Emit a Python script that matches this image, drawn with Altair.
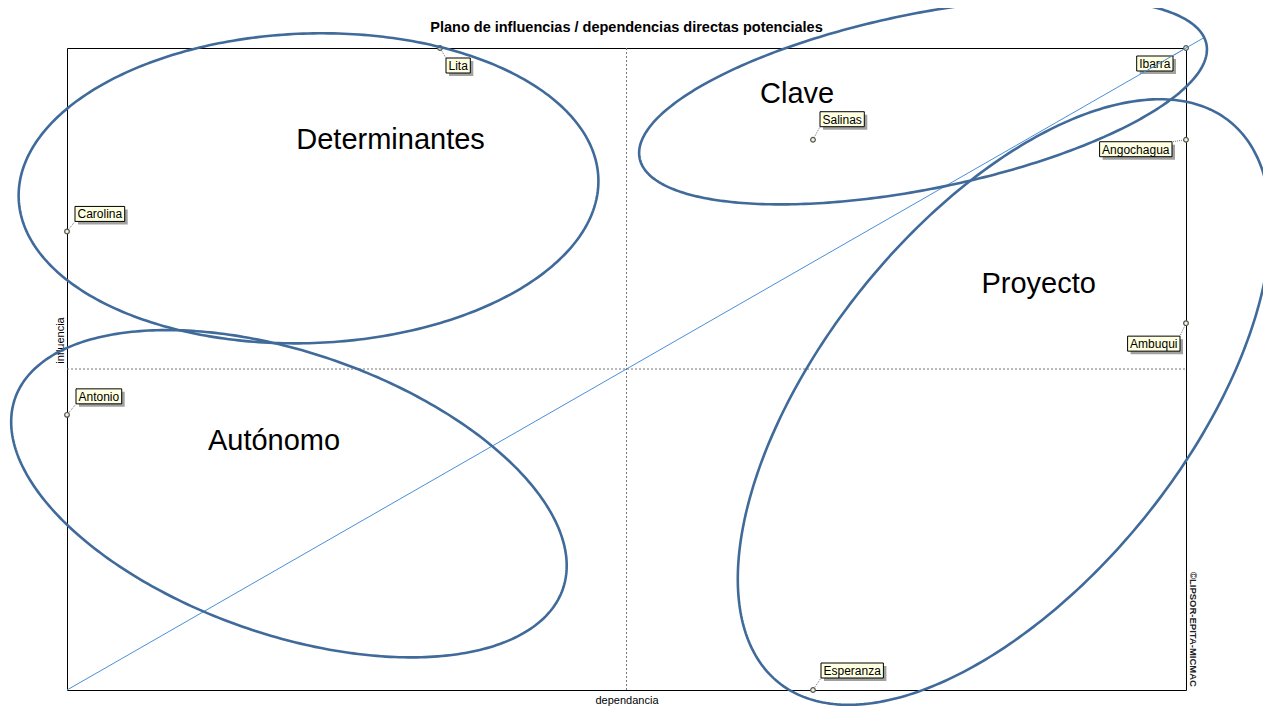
import altair as alt
import numpy as np
import pandas as pd

# ---------------- data ----------------
TITLE = "Plano de influencias / dependencias directas potenciales"
X_TITLE = "dependancia"
Y_TITLE = "influencia"
WATERMARK = "©LIPSOR-EPITA-MICMAC"

ACTORS = ["Lita", "Carolina", "Antonio", "Ibarra", "Salinas", "Angochagua", "Ambuqui", "Esperanza"]
DEPENDENCIA = [4, 0, 0, 12, 8, 12, 12, 8]
INFLUENCIA = [7, 5, 3, 7, 6, 6, 4, 0]

X_DOMAIN = [0, 12]
Y_DOMAIN = [0, 7]

REGIONS = ["Determinantes", "Clave", "Proyecto", "Autónomo"]
REGION_X = [3.47, 7.83, 10.42, 2.22]
REGION_Y = [6.0, 6.5, 4.43, 2.72]

# region ellipses: centre (data), semi-axes (x-data units), rotation (deg)
ELL_CX = [2.59, 9.18, 10.05, 2.38]
ELL_CY = [5.47, 6.42, 3.14, 2.14]
ELL_A = [3.11, 3.10, 3.86, 3.11]
ELL_B = [1.66, 0.94, 1.95, 1.51]
ELL_ANG = [2, 11.4, 51.2, -19.2]

DIAG_END_X = 12.2
WATERMARK_X = 12.07
WATERMARK_Y = 0.66
TITLE_X = 6.0
TITLE_Y = 7.22

# ---------------- style ----------------
W, H = 1119, 642
FONT = "Liberation Sans"
ELL_COLOR = "#3f6a9a"
DIAG_COLOR = "#4a8fd8"

# label box placement in pixels relative to the point: (side, box edge, box top)
LABEL_PLACE = {
    "Lita": ("L", 6, 10),
    "Carolina": ("L", 8, -25),
    "Antonio": ("L", 9, -26),
    "Ibarra": ("R", -13, 8),
    "Salinas": ("L", 7, -28),
    "Angochagua": ("R", -14, 2),
    "Ambuqui": ("R", -6, 13),
    "Esperanza": ("L", 8, -27),
}
BOX_H = 15
LABEL_SIZE = 12
CHAR_W = {"A": 667, "E": 667, "I": 278, "L": 556, "C": 722, "S": 667,
          "a": 556, "b": 556, "c": 500, "e": 556, "g": 556, "h": 556, "i": 222,
          "l": 222, "m": 833, "n": 556, "o": 556, "p": 556, "q": 556, "r": 333,
          "s": 500, "t": 278, "u": 556, "z": 500, "y": 500, "d": 556}


def text_w(s):
    return sum(CHAR_W.get(c, 556) for c in s) * LABEL_SIZE / 1000.0


K = (W / (X_DOMAIN[1] - X_DOMAIN[0])) / (H / (Y_DOMAIN[1] - Y_DOMAIN[0]))

# ---------------- tables ----------------
lab_rows = []
for name, x, y in zip(ACTORS, DEPENDENCIA, INFLUENCIA):
    side, ox, top = LABEL_PLACE[name]
    w = round(text_w(name) + 5, 1)
    bx = ox if side == "L" else ox - w
    cx = bx if side == "L" else bx + w
    cy = top + BOX_H if top < 0 else top
    lab_rows.append({
        "x": x, "y": y, "name": name,
        "box": f"M{bx},{top}h{w}v{BOX_H}h{-w}Z",
        "shadow": f"M{bx + 3},{top + 3}h{w}v{BOX_H}h{-w}Z",
        "leader": f"M0,0L{cx},{cy}",
        "tx": bx + w / 2, "ty": top + BOX_H / 2 + 0.5,
    })
labels = pd.DataFrame(lab_rows)

phi = np.linspace(0, 2 * np.pi, 361)
ell_rows = []
for name, cx, cy, a, b, ang in zip(REGIONS, ELL_CX, ELL_CY, ELL_A, ELL_B, ELL_ANG):
    t = np.radians(ang)
    ex = cx + a * np.cos(phi) * np.cos(t) - b * np.sin(phi) * np.sin(t)
    ey = cy + (a * np.cos(phi) * np.sin(t) + b * np.sin(phi) * np.cos(t)) * K
    for i, (u, v) in enumerate(zip(ex, ey)):
        ell_rows.append({"region": name, "i": i, "x": u, "y": v})
ellipses = pd.DataFrame(ell_rows)

regions = pd.DataFrame({"region": REGIONS, "x": REGION_X, "y": REGION_Y})
slope = (Y_DOMAIN[1] - Y_DOMAIN[0]) / (X_DOMAIN[1] - X_DOMAIN[0])
diag = pd.DataFrame({"x": [X_DOMAIN[0], DIAG_END_X],
                     "y": [Y_DOMAIN[0], Y_DOMAIN[0] + slope * (DIAG_END_X - X_DOMAIN[0])]})
mid_x = (X_DOMAIN[0] + X_DOMAIN[1]) / 2
mid_y = (Y_DOMAIN[0] + Y_DOMAIN[1]) / 2
vline = pd.DataFrame({"x": [mid_x], "y": [Y_DOMAIN[0]], "y2": [Y_DOMAIN[1]]})
hline = pd.DataFrame({"y": [mid_y], "x": [X_DOMAIN[0]], "x2": [X_DOMAIN[1]]})
wm = pd.DataFrame({"x": [WATERMARK_X], "y": [WATERMARK_Y], "t": [WATERMARK]})
ttl = pd.DataFrame({"x": [TITLE_X], "y": [TITLE_Y], "t": [TITLE]})

# ---------------- chart ----------------
xs = alt.Scale(domain=X_DOMAIN, nice=False, zero=False)
ys = alt.Scale(domain=Y_DOMAIN, nice=False, zero=False)
XAX = alt.Axis(title=X_TITLE, labels=False, ticks=False, domain=False, grid=False,
               titleFont=FONT, titleFontSize=11, titleFontWeight="normal",
               titleColor="black", titlePadding=4)
YAX = alt.Axis(title=Y_TITLE, labels=False, ticks=False, domain=False, grid=False,
               titleFont=FONT, titleFontSize=11, titleFontWeight="normal",
               titleColor="black", titlePadding=2, titleY=292)


def X(f="x"):
    return alt.X(f"{f}:Q", scale=xs, axis=XAX)


def Y(f="y"):
    return alt.Y(f"{f}:Q", scale=ys, axis=YAX)


vrule = alt.Chart(vline).mark_rule(color="#777777", strokeDash=[2, 2], strokeWidth=1).encode(
    x=X(), y=Y(), y2="y2:Q")
hrule = alt.Chart(hline).mark_rule(color="#777777", strokeDash=[2, 2], strokeWidth=1).encode(
    y=Y(), x=X(), x2="x2:Q")

leaders = alt.Chart(labels).mark_point(filled=False, stroke="#777777", strokeWidth=1,
                                        strokeDash=[1, 1], opacity=1).encode(
    x=X(), y=Y(), shape=alt.Shape("leader:N", scale=None), size=alt.value(4))
shadows = alt.Chart(labels).mark_point(filled=True, fill="#8a8a8a", opacity=0.8,
                                        strokeWidth=0).encode(
    x=X(), y=Y(), shape=alt.Shape("shadow:N", scale=None), size=alt.value(4))
boxes = alt.Chart(labels).mark_point(filled=True, fill="#ffffe1", stroke="black",
                                      strokeWidth=1, opacity=1, fillOpacity=1, strokeOpacity=1).encode(
    x=X(), y=Y(), shape=alt.Shape("box:N", scale=None), size=alt.value(4))
texts = alt.Chart(labels).mark_text(font=FONT, fontSize=LABEL_SIZE, color="black",
                                    align="center", baseline="middle",
                                    dx=alt.expr("datum.tx"), dy=alt.expr("datum.ty")).encode(
    x=X(), y=Y(), text="name:N")
points = alt.Chart(labels).mark_point(shape="circle", filled=True, fill="#f2f2dc",
                                       stroke="#555555", strokeWidth=1.2, opacity=1, size=22).encode(
    x=X(), y=Y())

region_text = alt.Chart(regions).mark_text(font=FONT, fontSize=29, color="black",
                                           align="center", baseline="middle").encode(
    x=X(), y=Y(), text="region:N")
watermark = alt.Chart(wm).mark_text(font=FONT, fontSize=9.5, fontWeight="bold", color="#222222",
                                    angle=90, align="center", baseline="middle").encode(
    x=X(), y=Y(), text="t:N")
title_text = alt.Chart(ttl).mark_text(font=FONT, fontSize=14.5, fontWeight="bold", color="black",
                                      align="center", baseline="middle").encode(
    x=X(), y=Y(), text="t:N")

diag_line = alt.Chart(diag).mark_line(color=DIAG_COLOR, strokeWidth=1).encode(x=X(), y=Y())
ell_lines = alt.Chart(ellipses).mark_line(color=ELL_COLOR, strokeWidth=2.6).encode(
    x=X(), y=Y(), detail="region:N", order="i:Q")

chart = alt.layer(
    vrule, hrule, leaders, shadows, boxes, texts, points, region_text, watermark,
    title_text, diag_line, ell_lines,
).properties(
    width=W, height=H,
    padding={"left": 59, "top": 40, "right": 77, "bottom": 18},
    autosize=alt.AutoSizeParams(type="none"),
).configure_view(
    stroke="black", strokeWidth=1
)

chart.save("out.html", embed_options={"renderer": "svg", "actions": False})
